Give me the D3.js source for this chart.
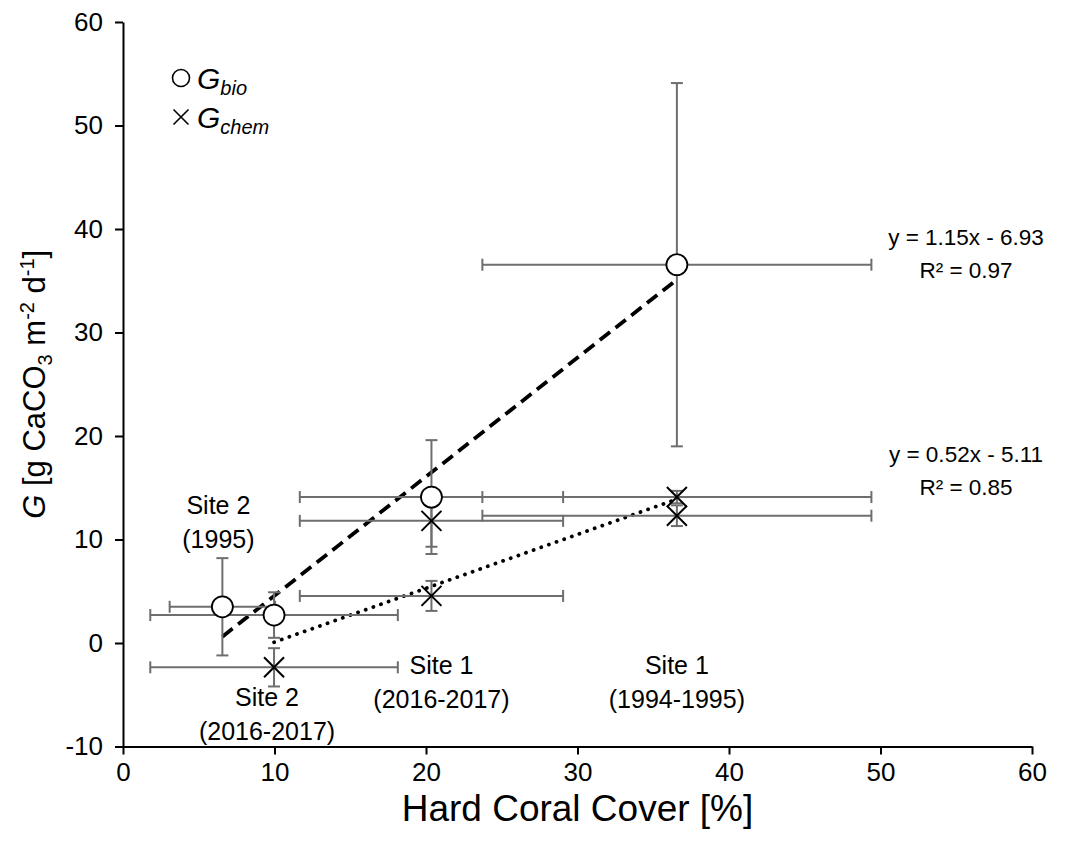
<!DOCTYPE html>
<html>
<head>
<meta charset="utf-8">
<script src="https://cdn.jsdelivr.net/npm/d3@7"></script>
<style>
  body { margin: 0; background: #fff; }
  svg text { font-family: "Liberation Sans", Arial, sans-serif; fill: #000; }
</style>
</head>
<body>
<svg id="chart" width="1087" height="850"></svg>
<script>
// site order: Site 2 (1995), Site 2 (2016-2017), Site 1 (2016-2017), Site 1 (1994-1995)
const siteNames = ["Site 2", "Site 2", "Site 1", "Site 1"];
const sitePeriods = ["(1995)", "(2016-2017)", "(2016-2017)", "(1994-1995)"];
const coralCover = [6.56, 9.97, 20.36, 36.56];
const coralCoverErr = [3.48, 8.17, 8.69, 12.84];

const gBio = [3.5, 2.7, 14.1, 36.55];
const gBioErr = [4.7, 2.2, 5.5, 17.55];

// G_chem points reference a site index (no chem point for Site 2 1995)
const gChemSite = [1, 2, 2, 3, 3];
const gChem = [-2.35, 4.55, 11.8, 12.3, 14.1];
const gChemErr = [1.85, 1.45, 2.5, 1.0, 0.6];

const fitSlope = [1.15, 0.52];
const fitIntercept = [-6.93, -5.11];
const fitR2 = [0.97, 0.85];

const xTicks = [0, 10, 20, 30, 40, 50, 60];
const yTicks = [-10, 0, 10, 20, 30, 40, 50, 60];

var svg = d3.select("#chart");

var x = d3.scaleLinear().domain([0, 60]).range([123, 1032]);
var y = d3.scaleLinear().domain([-10, 60]).range([746.5, 22]);

var fmt = d3.format(".2f");

// axes
svg.append("g")
    .attr("class", "x-axis")
    .attr("transform", "translate(0," + y(-10) + ")")
    .call(d3.axisBottom(x).tickValues(xTicks).tickSize(8).tickSizeOuter(0).tickPadding(8)
        .tickFormat(d => String(d)));

svg.append("g")
    .attr("class", "y-axis")
    .attr("transform", "translate(" + x(0) + ",0)")
    .call(d3.axisLeft(y).tickValues(yTicks).tickSize(8).tickSizeOuter(0).tickPadding(12)
        .tickFormat(d => String(d)));

svg.selectAll(".x-axis path, .y-axis path, .x-axis line, .y-axis line")
    .attr("stroke", "#000")
    .attr("stroke-width", 2);
svg.selectAll(".x-axis text, .y-axis text")
    .attr("font-size", 26)
    .attr("font-family", "Liberation Sans, Arial, sans-serif");

// axis titles
svg.append("text")
    .attr("x", (x(0) + x(60)) / 2)
    .attr("y", 821)
    .attr("text-anchor", "middle")
    .attr("font-size", 37)
    .text("Hard Coral Cover [%]");

var yTitle = svg.append("text")
    .attr("transform", "translate(45," + (y(25)) + ") rotate(-90)")
    .attr("text-anchor", "middle")
    .attr("font-size", 31);
yTitle.append("tspan").attr("font-style", "italic").text("G");
yTitle.append("tspan").text(" [g CaCO");
yTitle.append("tspan").attr("font-size", 20).attr("dy", 7).text("3");
yTitle.append("tspan").attr("dy", -7).text(" m");
yTitle.append("tspan").attr("font-size", 20).attr("dy", -11).text("-2");
yTitle.append("tspan").attr("dy", 11).text(" d");
yTitle.append("tspan").attr("font-size", 20).attr("dy", -11).text("-1");
yTitle.append("tspan").attr("dy", 11).text("]");

// trend lines over each series' x extent
var bioExtent = d3.extent(coralCover);
var chemExtent = d3.extent(gChemSite.map(i => coralCover[i]));
var fits = [
    {ext: bioExtent, k: 0, dash: "13,7", width: 3.8, cap: "butt"},
    {ext: chemExtent, k: 1, dash: "0.1,8", width: 3.8, cap: "round"}
];
fits.forEach(function(f) {
    svg.append("line")
        .attr("x1", x(f.ext[0]))
        .attr("y1", y(fitSlope[f.k] * f.ext[0] + fitIntercept[f.k]))
        .attr("x2", x(f.ext[1]))
        .attr("y2", y(fitSlope[f.k] * f.ext[1] + fitIntercept[f.k]))
        .attr("stroke", "#000")
        .attr("stroke-width", f.width)
        .attr("stroke-linecap", f.cap)
        .attr("stroke-dasharray", f.dash);
});

// error bars
var points = [];
gBio.forEach(function(v, i) {
    points.push({type: "bio", cx: coralCover[i], cxe: coralCoverErr[i], cy: v, cye: gBioErr[i]});
});
gChem.forEach(function(v, i) {
    var s = gChemSite[i];
    points.push({type: "chem", cx: coralCover[s], cxe: coralCoverErr[s], cy: v, cye: gChemErr[i]});
});

var errColor = "#6e6e6e", cap = 6;
var eb = svg.append("g").attr("stroke", errColor).attr("stroke-width", 2).attr("fill", "none");
points.forEach(function(p) {
    var px = x(p.cx), py = y(p.cy);
    var xl = x(p.cx - p.cxe), xr = x(p.cx + p.cxe);
    var yt = y(p.cy + p.cye), yb = y(p.cy - p.cye);
    eb.append("line").attr("x1", xl).attr("x2", xr).attr("y1", py).attr("y2", py);
    eb.append("line").attr("x1", xl).attr("x2", xl).attr("y1", py - cap).attr("y2", py + cap);
    eb.append("line").attr("x1", xr).attr("x2", xr).attr("y1", py - cap).attr("y2", py + cap);
    eb.append("line").attr("x1", px).attr("x2", px).attr("y1", yt).attr("y2", yb);
    eb.append("line").attr("x1", px - cap).attr("x2", px + cap).attr("y1", yt).attr("y2", yt);
    eb.append("line").attr("x1", px - cap).attr("x2", px + cap).attr("y1", yb).attr("y2", yb);
});

// markers
function cross(g, cx, cy, r, w) {
    g.append("path")
        .attr("d", "M" + (cx - r) + "," + (cy - r) + "L" + (cx + r) + "," + (cy + r) +
                   "M" + (cx - r) + "," + (cy + r) + "L" + (cx + r) + "," + (cy - r))
        .attr("stroke", "#000")
        .attr("stroke-width", w)
        .attr("fill", "none");
}

var mk = svg.append("g");
points.filter(p => p.type == "chem").forEach(function(p) {
    cross(mk, x(p.cx), y(p.cy), 10, 2);
});
mk.selectAll(".bio")
    .data(points.filter(p => p.type == "bio"))
    .enter().append("circle")
    .attr("class", "bio")
    .attr("cx", d => x(d.cx))
    .attr("cy", d => y(d.cy))
    .attr("r", 10.5)
    .attr("fill", "#fff")
    .attr("stroke", "#000")
    .attr("stroke-width", 1.8);

// site labels (pixel offsets from the site's x position)
var labelPos = [
    {dx: -4, y1: 514, y2: 548},
    {dx: -7, y1: 706, y2: 740},
    {dx: 10, y1: 674, y2: 708},
    {dx: 0, y1: 674, y2: 708}
];
siteNames.forEach(function(name, i) {
    var t = svg.append("text")
        .attr("text-anchor", "middle")
        .attr("font-size", 25);
    t.append("tspan").attr("x", x(coralCover[i]) + labelPos[i].dx).attr("y", labelPos[i].y1).text(name);
    t.append("tspan").attr("x", x(coralCover[i]) + labelPos[i].dx).attr("y", labelPos[i].y2).text(sitePeriods[i]);
});

// fit equations
var eqY = [245, 462];
fitSlope.forEach(function(k, i) {
    var t = svg.append("text").attr("text-anchor", "middle").attr("font-size", 22.5);
    t.append("tspan").attr("x", 966).attr("y", eqY[i])
        .text("y = " + fmt(k) + "x - " + fmt(-fitIntercept[i]));
    t.append("tspan").attr("x", 966).attr("y", eqY[i] + 33)
        .text("R\u00b2 = " + fmt(fitR2[i]));
});

// legend
var lg = svg.append("g").attr("transform", "translate(181,0)");
lg.append("circle").attr("cx", 0).attr("cy", 78).attr("r", 8.5)
    .attr("fill", "#fff").attr("stroke", "#000").attr("stroke-width", 1.6);
cross(lg, 0, 117, 7.5, 1.6);
[["bio", 89], ["chem", 128]].forEach(function(e) {
    var t = lg.append("text").attr("x", 16).attr("y", e[1]).attr("font-size", 30).attr("font-style", "italic");
    t.append("tspan").text("G");
    t.append("tspan").attr("font-size", 20).attr("dy", 6).text(e[0]);
});
</script>
</body>
</html>
